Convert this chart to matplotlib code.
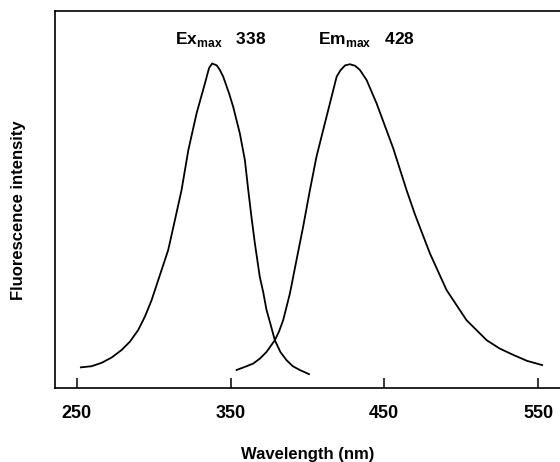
import matplotlib
matplotlib.use("Agg")
import matplotlib.pyplot as plt

# ------------------------------------------------------------------------
# Data (wavelength in nm, intensity in arb. units)
# ------------------------------------------------------------------------
ex_nm = [252.6, 259.6, 266.1, 272.6, 279.1, 284.5, 289.9, 294.2, 298.6, 302.9,
         309.4, 313.8, 318.1, 322.5, 327.9, 333.3, 336.0, 338.0, 341.0, 343.0,
         345.2, 349.0, 351.7, 356.0, 359.3, 361.5, 363.7, 365.8, 369.0, 371.2,
         373.4, 375.6, 378.8, 382.5, 386.4, 390.5, 395.0, 401.0]
ex_int = [5.5, 5.8, 6.7, 8.1, 10.1, 12.3, 15.4, 18.9, 23.3, 28.6,
          36.6, 44.6, 52.5, 63.1, 72.9, 80.8, 84.9, 86.1, 85.6, 84.4,
          82.6, 78.2, 74.6, 67.6, 60.5, 52.5, 45.0, 38.4, 29.5, 25.5,
          20.7, 17.5, 12.7, 9.5, 7.4, 5.8, 4.8, 3.7]

em_nm = [353.9, 358.5, 364.7, 369.0, 373.4, 378.8, 381.5, 384.2, 388.6, 392.9,
         397.2, 401.6, 405.9, 410.2, 414.6, 419.0, 421.5, 424.5, 427.6, 431.0,
         434.1, 438.5, 445.0, 455.8, 464.5, 470.0, 479.7, 490.5, 503.5, 516.6,
         525.0, 533.9, 543.0, 552.7]
em_int = [4.8, 5.5, 6.5, 7.8, 9.6, 12.7, 15.0, 18.0, 25.1, 34.0,
          42.8, 52.5, 61.4, 68.4, 75.5, 82.6, 84.3, 85.6, 85.9, 85.5,
          84.4, 81.7, 75.5, 63.6, 52.5, 46.0, 35.7, 26.0, 18.0, 12.7,
          10.5, 8.8, 7.2, 6.1]

ex_peak = 338
em_peak = 428
x_ticks = [250, 350, 450, 550]

# ------------------------------------------------------------------------
# Fonts
# ------------------------------------------------------------------------
plt.rcParams['font.family'] = ['Liberation Sans', 'DejaVu Sans']
plt.rcParams['font.weight'] = 'bold'
plt.rcParams['mathtext.fontset'] = 'custom'
plt.rcParams['mathtext.rm'] = 'Liberation Sans:bold'

fig = plt.figure(figsize=(5.6, 4.62), dpi=100)
ax = fig.add_axes([0.098, 0.160, 0.902, 0.816])

ax.plot(ex_nm, ex_int, color='black', lw=1.3, solid_joinstyle='round')
ax.plot(em_nm, em_int, color='black', lw=1.3, solid_joinstyle='round')

# peak labels
ax.text(ex_peak - 24, 91.4, rf"Ex$_{{\rm max}}$   {ex_peak}", ha='left',
        va='baseline', fontsize=12.5, fontweight='bold')
ax.text(em_peak - 21, 91.4, rf"Em$_{{\rm max}}$   {em_peak}", ha='left',
        va='baseline', fontsize=12.5, fontweight='bold')

ax.set_xlim(235.7, 564.3)
ax.set_ylim(0, 100)

ax.set_xticks(x_ticks)
ax.set_yticks([])
ax.tick_params(axis='x', direction='in', length=7, width=1.1, pad=12,
               labelsize=13)
for lbl in ax.get_xticklabels():
    lbl.set_fontweight('bold')

for side in ['left', 'bottom', 'top']:
    ax.spines[side].set_linewidth(1.2)
ax.spines['right'].set_visible(False)

ax.set_xlabel('Wavelength (nm)', fontsize=12, fontweight='bold')
ax.xaxis.set_label_coords(0.5, -0.155)
ax.set_ylabel('Fluorescence intensity', fontsize=12, fontweight='bold')
ax.yaxis.set_label_coords(-0.058, 0.472)

fig.savefig('out.png', dpi=100)
